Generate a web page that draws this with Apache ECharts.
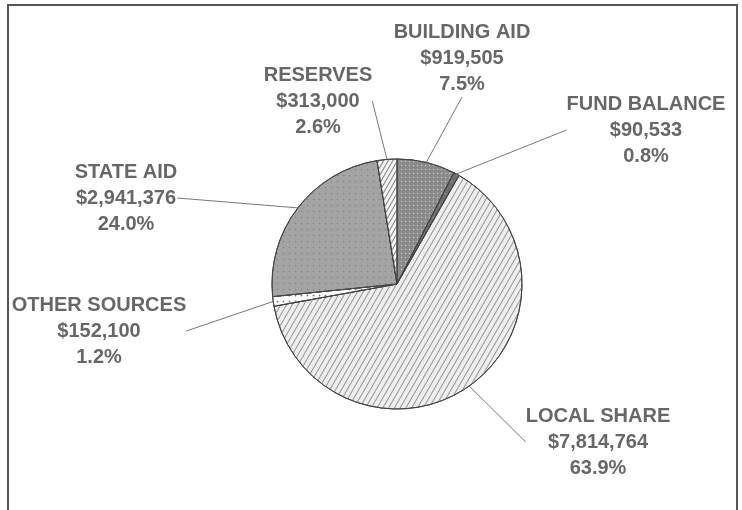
<!DOCTYPE html>
<html>
<head>
<meta charset="utf-8">
<script src="https://cdn.jsdelivr.net/npm/echarts@6/dist/echarts.min.js"></script>
<style>
  html, body { margin: 0; padding: 0; background: #fff; }
  #chart { width: 742px; height: 510px; }
</style>
</head>
<body>
<div id="chart"></div>
<script>
// slices, clockwise from 12 o'clock
var categories = ['BUILDING AID', 'FUND BALANCE', 'LOCAL SHARE', 'OTHER SOURCES', 'STATE AID', 'RESERVES'];
var amounts = [919505, 90533, 7814764, 152100, 2941376, 313000];
var amountLabels = ['$919,505', '$90,533', '$7,814,764', '$152,100', '$2,941,376', '$313,000'];
var percentLabels = ['7.5%', '0.8%', '63.9%', '1.2%', '24.0%', '2.6%'];

// where each label block sits (center x, top y)
var labelSpots = [
    [462, 19], [646, 91], [598, 403], [99, 292], [126, 159], [318, 62]
];

var sliceStyles = [
    { color: '#8a8a8a', decal: { color: 'rgba(255,255,255,0.5)', symbol: 'circle', symbolSize: 0.5, dashArrayX: [[3, 1]], dashArrayY: [3, 1] } },
    { color: '#6e6e6e', decal: { color: 'rgba(255,255,255,0.3)', symbol: 'rect', symbolSize: 0.5, dashArrayX: 3, dashArrayY: 3 } },
    { color: '#eeeeee', decal: { color: 'rgba(90,90,90,0.6)', symbol: 'rect', symbolSize: 1, dashArrayX: [[1, 0]], dashArrayY: [1, 4], rotation: -Math.PI / 3 } },
    { color: '#ffffff', decal: { color: 'rgba(60,60,60,0.7)', symbol: 'circle', symbolSize: 0.6, dashArrayX: 3, dashArrayY: 3 } },
    { color: '#a4a4a4', decal: { color: 'rgba(110,110,110,0.6)', symbol: 'circle', symbolSize: 0.5, dashArrayX: 3, dashArrayY: 3 } },
    { color: '#f4f4f4', decal: { color: 'rgba(80,80,80,0.7)', symbol: 'rect', symbolSize: 1, dashArrayX: [[1, 0]], dashArrayY: [1, 3], rotation: -Math.PI / 3 } }
];

var pieData = categories.map(function (name, i) {
    return {
        name: name,
        value: amounts[i],
        itemStyle: sliceStyles[i]
    };
});

var chart = echarts.init(document.getElementById('chart'));

chart.setOption({
    backgroundColor: '#ffffff',
    animation: false,
    graphic: [{
        type: 'rect',
        shape: { x: 8, y: 5, width: 729, height: 520 },
        style: { fill: 'none', stroke: '#555', lineWidth: 2 },
        silent: true
    }],
    series: [{
        type: 'pie',
        center: [397, 284],
        radius: [0, 125],
        startAngle: 90,
        clockwise: true,
        itemStyle: { borderColor: '#444', borderWidth: 1 },
        label: {
            show: true,
            formatter: function (p) {
                var i = p.dataIndex;
                return p.name + '\n' + amountLabels[i] + '\n' + percentLabels[i];
            },
            fontFamily: 'Liberation Sans, Arial, sans-serif',
            fontWeight: 'bold',
            fontSize: 20,
            lineHeight: 26,
            color: '#676767',
            align: 'center'
        },
        labelLine: {
            show: true,
            length2: 0,
            lineStyle: { color: '#777', width: 1 }
        },
        labelLayout: function (params) {
            var s = labelSpots[params.dataIndex];
            return { x: s[0], y: s[1], align: 'center', verticalAlign: 'top' };
        },
        emphasis: { disabled: true },
        data: pieData
    }]
});
</script>
</body>
</html>
